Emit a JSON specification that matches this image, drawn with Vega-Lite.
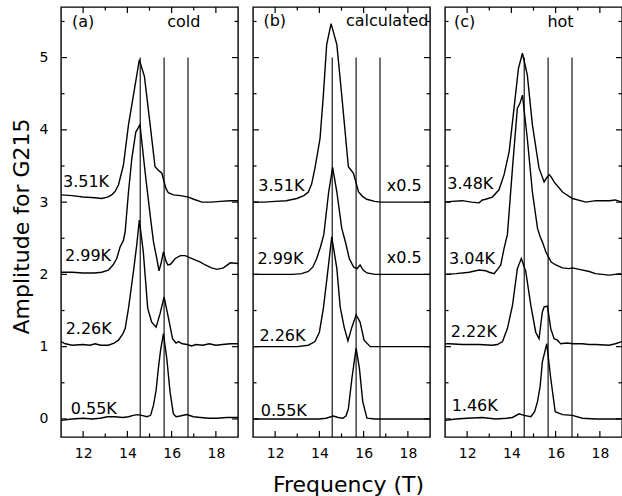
{
  "$schema": "https://vega.github.io/schema/vega-lite/v6.json",
  "background": "white",
  "padding": {"left": 9, "top": 5, "right": 0, "bottom": 0},
  "spacing": 7,
  "datasets": {
    "curves": [
      {"p":"a","c":"3.51K","x":11.0,"y":3.10},{"p":"a","c":"3.51K","x":11.5,"y":3.09},{"p":"a","c":"3.51K","x":12.0,"y":3.07},{"p":"a","c":"3.51K","x":12.54,"y":3.06},{"p":"a","c":"3.51K","x":12.84,"y":3.05},{"p":"a","c":"3.51K","x":13.1,"y":3.07},{"p":"a","c":"3.51K","x":13.29,"y":3.10},{"p":"a","c":"3.51K","x":13.45,"y":3.15},{"p":"a","c":"3.51K","x":13.6,"y":3.24},{"p":"a","c":"3.51K","x":13.82,"y":3.51},{"p":"a","c":"3.51K","x":14.05,"y":4.07},{"p":"a","c":"3.51K","x":14.35,"y":4.62},{"p":"a","c":"3.51K","x":14.54,"y":4.97},{"p":"a","c":"3.51K","x":14.77,"y":4.74},{"p":"a","c":"3.51K","x":15.03,"y":4.07},{"p":"a","c":"3.51K","x":15.25,"y":3.49},{"p":"a","c":"3.51K","x":15.4,"y":3.44},{"p":"a","c":"3.51K","x":15.56,"y":3.40},{"p":"a","c":"3.51K","x":15.74,"y":3.19},{"p":"a","c":"3.51K","x":15.85,"y":3.13},{"p":"a","c":"3.51K","x":16.08,"y":3.10},{"p":"a","c":"3.51K","x":16.4,"y":3.09},{"p":"a","c":"3.51K","x":16.76,"y":3.07},{"p":"a","c":"3.51K","x":17.0,"y":3.04},{"p":"a","c":"3.51K","x":17.37,"y":3.0},{"p":"a","c":"3.51K","x":17.8,"y":3.0},{"p":"a","c":"3.51K","x":18.2,"y":3.01},{"p":"a","c":"3.51K","x":18.65,"y":3.02},{"p":"a","c":"3.51K","x":19.0,"y":3.02},
      {"p":"a","c":"2.99K","x":11.0,"y":2.03},{"p":"a","c":"2.99K","x":11.5,"y":2.03},{"p":"a","c":"2.99K","x":12.0,"y":2.02},{"p":"a","c":"2.99K","x":12.5,"y":2.02},{"p":"a","c":"2.99K","x":12.84,"y":2.03},{"p":"a","c":"2.99K","x":13.14,"y":2.06},{"p":"a","c":"2.99K","x":13.35,"y":2.13},{"p":"a","c":"2.99K","x":13.52,"y":2.22},{"p":"a","c":"2.99K","x":13.67,"y":2.38},{"p":"a","c":"2.99K","x":13.82,"y":2.47},{"p":"a","c":"2.99K","x":13.9,"y":2.59},{"p":"a","c":"2.99K","x":14.05,"y":3.14},{"p":"a","c":"2.99K","x":14.2,"y":3.6},{"p":"a","c":"2.99K","x":14.38,"y":3.97},{"p":"a","c":"2.99K","x":14.57,"y":4.07},{"p":"a","c":"2.99K","x":14.8,"y":3.42},{"p":"a","c":"2.99K","x":15.03,"y":2.82},{"p":"a","c":"2.99K","x":15.18,"y":2.45},{"p":"a","c":"2.99K","x":15.33,"y":2.22},{"p":"a","c":"2.99K","x":15.43,"y":2.05},{"p":"a","c":"2.99K","x":15.52,"y":2.15},{"p":"a","c":"2.99K","x":15.63,"y":2.31},{"p":"a","c":"2.99K","x":15.75,"y":2.18},{"p":"a","c":"2.99K","x":15.83,"y":2.13},{"p":"a","c":"2.99K","x":15.95,"y":2.14},{"p":"a","c":"2.99K","x":16.16,"y":2.22},{"p":"a","c":"2.99K","x":16.4,"y":2.26},{"p":"a","c":"2.99K","x":16.61,"y":2.26},{"p":"a","c":"2.99K","x":16.84,"y":2.23},{"p":"a","c":"2.99K","x":17.06,"y":2.2},{"p":"a","c":"2.99K","x":17.3,"y":2.17},{"p":"a","c":"2.99K","x":17.52,"y":2.13},{"p":"a","c":"2.99K","x":17.8,"y":2.09},{"p":"a","c":"2.99K","x":18.05,"y":2.07},{"p":"a","c":"2.99K","x":18.34,"y":2.09},{"p":"a","c":"2.99K","x":18.65,"y":2.16},{"p":"a","c":"2.99K","x":19.0,"y":2.15},
      {"p":"a","c":"2.26K","x":11.0,"y":1.07},{"p":"a","c":"2.26K","x":11.2,"y":1.04},{"p":"a","c":"2.26K","x":11.5,"y":1.02},{"p":"a","c":"2.26K","x":12.0,"y":1.03},{"p":"a","c":"2.26K","x":12.3,"y":1.02},{"p":"a","c":"2.26K","x":12.54,"y":1.04},{"p":"a","c":"2.26K","x":12.8,"y":1.02},{"p":"a","c":"2.26K","x":13.14,"y":1.02},{"p":"a","c":"2.26K","x":13.4,"y":1.05},{"p":"a","c":"2.26K","x":13.6,"y":1.09},{"p":"a","c":"2.26K","x":13.8,"y":1.18},{"p":"a","c":"2.26K","x":13.9,"y":1.25},{"p":"a","c":"2.26K","x":14.05,"y":1.53},{"p":"a","c":"2.26K","x":14.27,"y":2.03},{"p":"a","c":"2.26K","x":14.42,"y":2.40},{"p":"a","c":"2.26K","x":14.54,"y":2.75},{"p":"a","c":"2.26K","x":14.72,"y":2.31},{"p":"a","c":"2.26K","x":14.92,"y":1.53},{"p":"a","c":"2.26K","x":15.1,"y":1.34},{"p":"a","c":"2.26K","x":15.3,"y":1.27},{"p":"a","c":"2.26K","x":15.48,"y":1.46},{"p":"a","c":"2.26K","x":15.66,"y":1.69},{"p":"a","c":"2.26K","x":15.86,"y":1.39},{"p":"a","c":"2.26K","x":16.04,"y":1.11},{"p":"a","c":"2.26K","x":16.2,"y":1.05},{"p":"a","c":"2.26K","x":16.31,"y":1.07},{"p":"a","c":"2.26K","x":16.49,"y":1.04},{"p":"a","c":"2.26K","x":16.7,"y":1.03},{"p":"a","c":"2.26K","x":16.9,"y":1.01},{"p":"a","c":"2.26K","x":17.1,"y":1.03},{"p":"a","c":"2.26K","x":17.4,"y":1.02},{"p":"a","c":"2.26K","x":17.7,"y":1.04},{"p":"a","c":"2.26K","x":18.0,"y":1.02},{"p":"a","c":"2.26K","x":18.3,"y":1.03},{"p":"a","c":"2.26K","x":18.65,"y":1.04},{"p":"a","c":"2.26K","x":19.0,"y":1.04},
      {"p":"a","c":"0.55K","x":11.0,"y":-0.02},{"p":"a","c":"0.55K","x":11.5,"y":0.0},{"p":"a","c":"0.55K","x":12.0,"y":0.01},{"p":"a","c":"0.55K","x":12.4,"y":0.0},{"p":"a","c":"0.55K","x":12.76,"y":0.01},{"p":"a","c":"0.55K","x":13.1,"y":0.03},{"p":"a","c":"0.55K","x":13.44,"y":0.03},{"p":"a","c":"0.55K","x":13.8,"y":0.02},{"p":"a","c":"0.55K","x":14.05,"y":0.03},{"p":"a","c":"0.55K","x":14.27,"y":0.05},{"p":"a","c":"0.55K","x":14.45,"y":0.06},{"p":"a","c":"0.55K","x":14.65,"y":0.05},{"p":"a","c":"0.55K","x":14.88,"y":0.03},{"p":"a","c":"0.55K","x":15.05,"y":0.05},{"p":"a","c":"0.55K","x":15.18,"y":0.19},{"p":"a","c":"0.55K","x":15.3,"y":0.4},{"p":"a","c":"0.55K","x":15.4,"y":0.70},{"p":"a","c":"0.55K","x":15.5,"y":0.95},{"p":"a","c":"0.55K","x":15.63,"y":1.18},{"p":"a","c":"0.55K","x":15.78,"y":0.84},{"p":"a","c":"0.55K","x":15.93,"y":0.37},{"p":"a","c":"0.55K","x":16.08,"y":0.07},{"p":"a","c":"0.55K","x":16.2,"y":0.03},{"p":"a","c":"0.55K","x":16.38,"y":0.04},{"p":"a","c":"0.55K","x":16.69,"y":0.06},{"p":"a","c":"0.55K","x":16.98,"y":0.03},{"p":"a","c":"0.55K","x":17.3,"y":0.02},{"p":"a","c":"0.55K","x":17.7,"y":0.01},{"p":"a","c":"0.55K","x":18.05,"y":0.01},{"p":"a","c":"0.55K","x":18.5,"y":0.02},{"p":"a","c":"0.55K","x":19.0,"y":0.02},
      {"p":"b","c":"3.51K","x":11.0,"y":3.0},{"p":"b","c":"3.51K","x":11.5,"y":3.0},{"p":"b","c":"3.51K","x":12.0,"y":3.01},{"p":"b","c":"3.51K","x":12.5,"y":3.02},{"p":"b","c":"3.51K","x":12.98,"y":3.05},{"p":"b","c":"3.51K","x":13.3,"y":3.09},{"p":"b","c":"3.51K","x":13.5,"y":3.14},{"p":"b","c":"3.51K","x":13.65,"y":3.25},{"p":"b","c":"3.51K","x":13.8,"y":3.47},{"p":"b","c":"3.51K","x":14.03,"y":3.88},{"p":"b","c":"3.51K","x":14.18,"y":4.48},{"p":"b","c":"3.51K","x":14.33,"y":5.18},{"p":"b","c":"3.51K","x":14.53,"y":5.47},{"p":"b","c":"3.51K","x":14.79,"y":5.18},{"p":"b","c":"3.51K","x":15.01,"y":4.48},{"p":"b","c":"3.51K","x":15.31,"y":3.49},{"p":"b","c":"3.51K","x":15.54,"y":3.40},{"p":"b","c":"3.51K","x":15.77,"y":3.14},{"p":"b","c":"3.51K","x":15.95,"y":3.08},{"p":"b","c":"3.51K","x":16.14,"y":3.04},{"p":"b","c":"3.51K","x":16.5,"y":3.01},{"p":"b","c":"3.51K","x":16.75,"y":3.0},{"p":"b","c":"3.51K","x":17.5,"y":3.0},{"p":"b","c":"3.51K","x":18.5,"y":3.0},{"p":"b","c":"3.51K","x":19.0,"y":3.0},
      {"p":"b","c":"2.99K","x":11.0,"y":2.0},{"p":"b","c":"2.99K","x":12.0,"y":2.0},{"p":"b","c":"2.99K","x":12.8,"y":2.0},{"p":"b","c":"2.99K","x":13.2,"y":2.01},{"p":"b","c":"2.99K","x":13.5,"y":2.04},{"p":"b","c":"2.99K","x":13.7,"y":2.1},{"p":"b","c":"2.99K","x":13.88,"y":2.22},{"p":"b","c":"2.99K","x":14.05,"y":2.38},{"p":"b","c":"2.99K","x":14.2,"y":2.55},{"p":"b","c":"2.99K","x":14.42,"y":3.14},{"p":"b","c":"2.99K","x":14.6,"y":3.48},{"p":"b","c":"2.99K","x":14.79,"y":3.14},{"p":"b","c":"2.99K","x":15.01,"y":2.64},{"p":"b","c":"2.99K","x":15.2,"y":2.42},{"p":"b","c":"2.99K","x":15.35,"y":2.22},{"p":"b","c":"2.99K","x":15.55,"y":2.1},{"p":"b","c":"2.99K","x":15.7,"y":2.08},{"p":"b","c":"2.99K","x":15.84,"y":2.13},{"p":"b","c":"2.99K","x":15.98,"y":2.06},{"p":"b","c":"2.99K","x":16.15,"y":2.02},{"p":"b","c":"2.99K","x":16.5,"y":2.0},{"p":"b","c":"2.99K","x":17.5,"y":2.0},{"p":"b","c":"2.99K","x":19.0,"y":2.0},
      {"p":"b","c":"2.26K","x":11.0,"y":1.0},{"p":"b","c":"2.26K","x":12.0,"y":1.0},{"p":"b","c":"2.26K","x":13.0,"y":1.0},{"p":"b","c":"2.26K","x":13.5,"y":1.02},{"p":"b","c":"2.26K","x":13.8,"y":1.07},{"p":"b","c":"2.26K","x":14.0,"y":1.2},{"p":"b","c":"2.26K","x":14.18,"y":1.53},{"p":"b","c":"2.26K","x":14.36,"y":1.99},{"p":"b","c":"2.26K","x":14.56,"y":2.52},{"p":"b","c":"2.26K","x":14.79,"y":2.08},{"p":"b","c":"2.26K","x":14.94,"y":1.55},{"p":"b","c":"2.26K","x":15.12,"y":1.27},{"p":"b","c":"2.26K","x":15.29,"y":1.08},{"p":"b","c":"2.26K","x":15.47,"y":1.27},{"p":"b","c":"2.26K","x":15.66,"y":1.44},{"p":"b","c":"2.26K","x":15.84,"y":1.34},{"p":"b","c":"2.26K","x":16.02,"y":1.09},{"p":"b","c":"2.26K","x":16.3,"y":1.0},{"p":"b","c":"2.26K","x":17.0,"y":1.0},{"p":"b","c":"2.26K","x":19.0,"y":1.0},
      {"p":"b","c":"0.55K","x":11.0,"y":0.0},{"p":"b","c":"0.55K","x":12.0,"y":0.0},{"p":"b","c":"0.55K","x":13.0,"y":0.0},{"p":"b","c":"0.55K","x":14.0,"y":0.0},{"p":"b","c":"0.55K","x":14.3,"y":0.01},{"p":"b","c":"0.55K","x":14.63,"y":0.04},{"p":"b","c":"0.55K","x":14.85,"y":0.02},{"p":"b","c":"0.55K","x":15.06,"y":0.01},{"p":"b","c":"0.55K","x":15.2,"y":0.04},{"p":"b","c":"0.55K","x":15.31,"y":0.14},{"p":"b","c":"0.55K","x":15.47,"y":0.56},{"p":"b","c":"0.55K","x":15.66,"y":0.98},{"p":"b","c":"0.55K","x":15.81,"y":0.70},{"p":"b","c":"0.55K","x":15.96,"y":0.24},{"p":"b","c":"0.55K","x":16.15,"y":0.01},{"p":"b","c":"0.55K","x":16.5,"y":0.0},{"p":"b","c":"0.55K","x":19.0,"y":0.0},
      {"p":"c","c":"3.48K","x":11.0,"y":3.0},{"p":"c","c":"3.48K","x":11.3,"y":3.01},{"p":"c","c":"3.48K","x":11.78,"y":3.02},{"p":"c","c":"3.48K","x":12.2,"y":3.0},{"p":"c","c":"3.48K","x":12.54,"y":2.99},{"p":"c","c":"3.48K","x":12.69,"y":3.03},{"p":"c","c":"3.48K","x":12.84,"y":3.04},{"p":"c","c":"3.48K","x":13.14,"y":3.07},{"p":"c","c":"3.48K","x":13.44,"y":3.17},{"p":"c","c":"3.48K","x":13.67,"y":3.38},{"p":"c","c":"3.48K","x":13.9,"y":3.7},{"p":"c","c":"3.48K","x":14.12,"y":4.3},{"p":"c","c":"3.48K","x":14.32,"y":4.85},{"p":"c","c":"3.48K","x":14.5,"y":5.06},{"p":"c","c":"3.48K","x":14.72,"y":4.76},{"p":"c","c":"3.48K","x":14.95,"y":4.07},{"p":"c","c":"3.48K","x":15.25,"y":3.47},{"p":"c","c":"3.48K","x":15.48,"y":3.28},{"p":"c","c":"3.48K","x":15.58,"y":3.33},{"p":"c","c":"3.48K","x":15.71,"y":3.38},{"p":"c","c":"3.48K","x":15.8,"y":3.35},{"p":"c","c":"3.48K","x":15.93,"y":3.28},{"p":"c","c":"3.48K","x":16.31,"y":3.14},{"p":"c","c":"3.48K","x":16.76,"y":3.05},{"p":"c","c":"3.48K","x":17.37,"y":3.0},{"p":"c","c":"3.48K","x":17.82,"y":3.02},{"p":"c","c":"3.48K","x":18.42,"y":3.02},{"p":"c","c":"3.48K","x":18.7,"y":3.03},{"p":"c","c":"3.48K","x":19.0,"y":3.0},
      {"p":"c","c":"3.04K","x":11.0,"y":2.0},{"p":"c","c":"3.04K","x":11.5,"y":2.01},{"p":"c","c":"3.04K","x":12.09,"y":2.03},{"p":"c","c":"3.04K","x":12.54,"y":2.06},{"p":"c","c":"3.04K","x":12.84,"y":2.05},{"p":"c","c":"3.04K","x":13.0,"y":2.03},{"p":"c","c":"3.04K","x":13.22,"y":2.01},{"p":"c","c":"3.04K","x":13.4,"y":2.08},{"p":"c","c":"3.04K","x":13.52,"y":2.13},{"p":"c","c":"3.04K","x":13.67,"y":2.36},{"p":"c","c":"3.04K","x":13.82,"y":2.55},{"p":"c","c":"3.04K","x":14.05,"y":3.47},{"p":"c","c":"3.04K","x":14.27,"y":4.3},{"p":"c","c":"3.04K","x":14.38,"y":4.36},{"p":"c","c":"3.04K","x":14.5,"y":4.48},{"p":"c","c":"3.04K","x":14.72,"y":3.88},{"p":"c","c":"3.04K","x":14.95,"y":3.14},{"p":"c","c":"3.04K","x":15.18,"y":2.64},{"p":"c","c":"3.04K","x":15.3,"y":2.52},{"p":"c","c":"3.04K","x":15.4,"y":2.45},{"p":"c","c":"3.04K","x":15.56,"y":2.31},{"p":"c","c":"3.04K","x":15.8,"y":2.17},{"p":"c","c":"3.04K","x":16.01,"y":2.13},{"p":"c","c":"3.04K","x":16.31,"y":2.09},{"p":"c","c":"3.04K","x":16.61,"y":2.08},{"p":"c","c":"3.04K","x":16.76,"y":2.09},{"p":"c","c":"3.04K","x":17.07,"y":2.07},{"p":"c","c":"3.04K","x":17.52,"y":2.04},{"p":"c","c":"3.04K","x":17.8,"y":2.01},{"p":"c","c":"3.04K","x":18.42,"y":1.99},{"p":"c","c":"3.04K","x":18.95,"y":2.01},
      {"p":"c","c":"2.22K","x":11.0,"y":1.04},{"p":"c","c":"2.22K","x":11.18,"y":1.04},{"p":"c","c":"2.22K","x":11.78,"y":1.03},{"p":"c","c":"2.22K","x":12.54,"y":1.03},{"p":"c","c":"2.22K","x":13.14,"y":1.02},{"p":"c","c":"2.22K","x":13.37,"y":1.03},{"p":"c","c":"2.22K","x":13.6,"y":1.07},{"p":"c","c":"2.22K","x":13.82,"y":1.25},{"p":"c","c":"2.22K","x":14.05,"y":1.57},{"p":"c","c":"2.22K","x":14.27,"y":2.08},{"p":"c","c":"2.22K","x":14.45,"y":2.22},{"p":"c","c":"2.22K","x":14.65,"y":2.04},{"p":"c","c":"2.22K","x":14.88,"y":1.57},{"p":"c","c":"2.22K","x":15.1,"y":1.2},{"p":"c","c":"2.22K","x":15.25,"y":1.11},{"p":"c","c":"2.22K","x":15.4,"y":1.48},{"p":"c","c":"2.22K","x":15.48,"y":1.55},{"p":"c","c":"2.22K","x":15.63,"y":1.56},{"p":"c","c":"2.22K","x":15.78,"y":1.25},{"p":"c","c":"2.22K","x":15.93,"y":1.11},{"p":"c","c":"2.22K","x":16.08,"y":1.09},{"p":"c","c":"2.22K","x":16.23,"y":1.04},{"p":"c","c":"2.22K","x":16.5,"y":1.05},{"p":"c","c":"2.22K","x":16.8,"y":1.04},{"p":"c","c":"2.22K","x":17.21,"y":1.04},{"p":"c","c":"2.22K","x":17.52,"y":1.03},{"p":"c","c":"2.22K","x":17.82,"y":1.03},{"p":"c","c":"2.22K","x":18.42,"y":1.02},{"p":"c","c":"2.22K","x":18.7,"y":1.04},{"p":"c","c":"2.22K","x":19.0,"y":1.07},
      {"p":"c","c":"1.46K","x":11.0,"y":-0.02},{"p":"c","c":"1.46K","x":11.5,"y":0.0},{"p":"c","c":"1.46K","x":12.0,"y":0.01},{"p":"c","c":"1.46K","x":12.69,"y":0.02},{"p":"c","c":"1.46K","x":13.29,"y":0.0},{"p":"c","c":"1.46K","x":13.8,"y":0.01},{"p":"c","c":"1.46K","x":14.05,"y":0.02},{"p":"c","c":"1.46K","x":14.35,"y":0.07},{"p":"c","c":"1.46K","x":14.57,"y":0.05},{"p":"c","c":"1.46K","x":14.88,"y":0.03},{"p":"c","c":"1.46K","x":15.05,"y":0.1},{"p":"c","c":"1.46K","x":15.18,"y":0.24},{"p":"c","c":"1.46K","x":15.3,"y":0.45},{"p":"c","c":"1.46K","x":15.4,"y":0.79},{"p":"c","c":"1.46K","x":15.6,"y":1.04},{"p":"c","c":"1.46K","x":15.78,"y":0.56},{"p":"c","c":"1.46K","x":15.98,"y":0.10},{"p":"c","c":"1.46K","x":16.31,"y":0.06},{"p":"c","c":"1.46K","x":16.76,"y":0.05},{"p":"c","c":"1.46K","x":17.21,"y":0.01},{"p":"c","c":"1.46K","x":17.82,"y":0.0},{"p":"c","c":"1.46K","x":18.95,"y":0.0}
    ],
    "vlines": [
      {"x":14.58,"y1":5.0,"y2":-0.25},{"x":15.66,"y1":5.0,"y2":-0.25},{"x":16.74,"y1":5.0,"y2":-0.25}
    ],
    "xt": [
      {"v":12,"a":-0.25,"b":-0.167},{"v":14,"a":-0.25,"b":-0.167},{"v":16,"a":-0.25,"b":-0.167},{"v":18,"a":-0.25,"b":-0.167},
      {"v":13,"a":-0.25,"b":-0.2},{"v":15,"a":-0.25,"b":-0.2},{"v":17,"a":-0.25,"b":-0.2},
      {"v":12,"a":5.7,"b":5.617},{"v":14,"a":5.7,"b":5.617},{"v":16,"a":5.7,"b":5.617},{"v":18,"a":5.7,"b":5.617},
      {"v":13,"a":5.7,"b":5.65},{"v":15,"a":5.7,"b":5.65},{"v":17,"a":5.7,"b":5.65}
    ],
    "yt": [
      {"v":0,"a":11,"b":11.27},{"v":1,"a":11,"b":11.27},{"v":2,"a":11,"b":11.27},{"v":3,"a":11,"b":11.27},{"v":4,"a":11,"b":11.27},{"v":5,"a":11,"b":11.27},
      {"v":0.5,"a":11,"b":11.16},{"v":1.5,"a":11,"b":11.16},{"v":2.5,"a":11,"b":11.16},{"v":3.5,"a":11,"b":11.16},{"v":4.5,"a":11,"b":11.16},{"v":5.5,"a":11,"b":11.16},
      {"v":0,"a":19,"b":18.73},{"v":1,"a":19,"b":18.73},{"v":2,"a":19,"b":18.73},{"v":3,"a":19,"b":18.73},{"v":4,"a":19,"b":18.73},{"v":5,"a":19,"b":18.73},
      {"v":0.5,"a":19,"b":18.84},{"v":1.5,"a":19,"b":18.84},{"v":2.5,"a":19,"b":18.84},{"v":3.5,"a":19,"b":18.84},{"v":4.5,"a":19,"b":18.84},{"v":5.5,"a":19,"b":18.84}
    ],
    "labels": [
      {"p":"a","t":"(a)","x":11.5,"y":5.42},{"p":"a","t":"cold","x":15.8,"y":5.42},
      {"p":"a","t":"3.51K","x":11.09,"y":3.21},{"p":"a","t":"2.99K","x":11.18,"y":2.19},{"p":"a","t":"2.26K","x":11.21,"y":1.17},{"p":"a","t":"0.55K","x":11.44,"y":0.07},
      {"p":"b","t":"(b)","x":11.47,"y":5.44},{"p":"b","t":"calculated","x":15.2,"y":5.44},
      {"p":"b","t":"3.51K","x":11.24,"y":3.15},{"p":"b","t":"x0.5","x":17.05,"y":3.15},{"p":"b","t":"2.99K","x":11.2,"y":2.14},{"p":"b","t":"x0.5","x":17.05,"y":2.16},{"p":"b","t":"2.26K","x":11.29,"y":1.08},{"p":"b","t":"0.55K","x":11.35,"y":0.04},
      {"p":"c","t":"(c)","x":11.41,"y":5.42},{"p":"c","t":"hot","x":15.63,"y":5.42},
      {"p":"c","t":"3.48K","x":11.1,"y":3.18},{"p":"c","t":"3.04K","x":11.18,"y":2.15},{"p":"c","t":"2.22K","x":11.26,"y":1.14},{"p":"c","t":"1.46K","x":11.3,"y":0.11}
    ]
  },
  "hconcat": [
    {
      "width": 177, "height": 430,
      "layer": [
        {
          "data": {"name": "curves"},
          "transform": [{"filter": "datum.p === 'a'"}],
          "mark": {"type": "line", "color": "black", "strokeWidth": 1.4},
          "encoding": {
            "x": {"field": "x", "type": "quantitative", "scale": {"domain": [11, 19], "nice": false, "zero": false},
              "axis": {"orient": "bottom", "values": [12,14,16,18], "ticks": false, "labelPadding": 9, "title": null}},
            "y": {"field": "y", "type": "quantitative", "scale": {"domain": [-0.25, 5.7], "nice": false, "zero": false},
              "axis": {"orient": "left", "values": [0,1,2,3,4,5], "format": "d", "ticks": false, "labelPadding": 13, "title": "Amplitude for G215", "titleX": -33, "titleY": 219, "titleAngle": -90, "titleBaseline": "alphabetic", "titleAlign": "center"}},
            "detail": {"field": "c"}
          }
        },
        {"data": {"name": "vlines"}, "mark": {"type": "rule", "color": "black", "strokeWidth": 1.1},
          "encoding": {"x": {"field": "x", "type": "quantitative"}, "y": {"field": "y1", "type": "quantitative"}, "y2": {"field": "y2"}}},
        {"data": {"name": "xt"}, "mark": {"type": "rule", "color": "black", "strokeWidth": 1.2},
          "encoding": {"x": {"field": "v", "type": "quantitative"}, "y": {"field": "a", "type": "quantitative"}, "y2": {"field": "b"}}},
        {"data": {"name": "yt"}, "mark": {"type": "rule", "color": "black", "strokeWidth": 1.2},
          "encoding": {"y": {"field": "v", "type": "quantitative"}, "x": {"field": "a", "type": "quantitative"}, "x2": {"field": "b"}}},
        {
          "data": {"name": "labels"},
          "transform": [{"filter": "datum.p === 'a'"}],
          "mark": {"type": "text", "align": "left", "baseline": "alphabetic", "font": "DejaVu Sans", "fontSize": 16, "color": "black"},
          "encoding": {"x": {"field": "x", "type": "quantitative"}, "y": {"field": "y", "type": "quantitative"}, "text": {"field": "t"}}
        }
      ]
    },
    {
      "width": 177, "height": 430,
      "layer": [
        {
          "data": {"name": "curves"},
          "transform": [{"filter": "datum.p === 'b'"}],
          "mark": {"type": "line", "color": "black", "strokeWidth": 1.4},
          "encoding": {
            "x": {"field": "x", "type": "quantitative", "scale": {"domain": [11, 19], "nice": false, "zero": false},
              "axis": {"orient": "bottom", "values": [12,14,16,18], "ticks": false, "labelPadding": 9, "title": "Frequency (T)", "titleX": 95, "titleY": 54, "titleBaseline": "alphabetic", "titleAlign": "center"}},
            "y": {"field": "y", "type": "quantitative", "scale": {"domain": [-0.25, 5.7], "nice": false, "zero": false}, "axis": null},
            "detail": {"field": "c"}
          }
        },
        {"data": {"name": "vlines"}, "mark": {"type": "rule", "color": "black", "strokeWidth": 1.1},
          "encoding": {"x": {"field": "x", "type": "quantitative"}, "y": {"field": "y1", "type": "quantitative"}, "y2": {"field": "y2"}}},
        {"data": {"name": "xt"}, "mark": {"type": "rule", "color": "black", "strokeWidth": 1.2},
          "encoding": {"x": {"field": "v", "type": "quantitative"}, "y": {"field": "a", "type": "quantitative"}, "y2": {"field": "b"}}},
        {"data": {"name": "yt"}, "mark": {"type": "rule", "color": "black", "strokeWidth": 1.2},
          "encoding": {"y": {"field": "v", "type": "quantitative"}, "x": {"field": "a", "type": "quantitative"}, "x2": {"field": "b"}}},
        {
          "data": {"name": "labels"},
          "transform": [{"filter": "datum.p === 'b'"}],
          "mark": {"type": "text", "align": "left", "baseline": "alphabetic", "font": "DejaVu Sans", "fontSize": 16, "color": "black"},
          "encoding": {"x": {"field": "x", "type": "quantitative"}, "y": {"field": "y", "type": "quantitative"}, "text": {"field": "t"}}
        }
      ]
    },
    {
      "width": 177, "height": 430,
      "layer": [
        {
          "data": {"name": "curves"},
          "transform": [{"filter": "datum.p === 'c'"}],
          "mark": {"type": "line", "color": "black", "strokeWidth": 1.4},
          "encoding": {
            "x": {"field": "x", "type": "quantitative", "scale": {"domain": [11, 19], "nice": false, "zero": false},
              "axis": {"orient": "bottom", "values": [12,14,16,18], "ticks": false, "labelPadding": 9, "title": null}},
            "y": {"field": "y", "type": "quantitative", "scale": {"domain": [-0.25, 5.7], "nice": false, "zero": false}, "axis": null},
            "detail": {"field": "c"}
          }
        },
        {"data": {"name": "vlines"}, "mark": {"type": "rule", "color": "black", "strokeWidth": 1.1},
          "encoding": {"x": {"field": "x", "type": "quantitative"}, "y": {"field": "y1", "type": "quantitative"}, "y2": {"field": "y2"}}},
        {"data": {"name": "xt"}, "mark": {"type": "rule", "color": "black", "strokeWidth": 1.2},
          "encoding": {"x": {"field": "v", "type": "quantitative"}, "y": {"field": "a", "type": "quantitative"}, "y2": {"field": "b"}}},
        {"data": {"name": "yt"}, "mark": {"type": "rule", "color": "black", "strokeWidth": 1.2},
          "encoding": {"y": {"field": "v", "type": "quantitative"}, "x": {"field": "a", "type": "quantitative"}, "x2": {"field": "b"}}},
        {
          "data": {"name": "labels"},
          "transform": [{"filter": "datum.p === 'c'"}],
          "mark": {"type": "text", "align": "left", "baseline": "alphabetic", "font": "DejaVu Sans", "fontSize": 16, "color": "black"},
          "encoding": {"x": {"field": "x", "type": "quantitative"}, "y": {"field": "y", "type": "quantitative"}, "text": {"field": "t"}}
        }
      ]
    }
  ],
  "config": {
    "view": {"stroke": "black", "strokeWidth": 1.4},
    "concat": {"spacing": 7},
    "axis": {"domain": false, "grid": false, "labelFont": "DejaVu Sans", "labelFontSize": 14, "labelColor": "black", "titleFont": "DejaVu Sans", "titleFontSize": 22, "titleFontWeight": "normal", "titleColor": "black"}
  }
}
